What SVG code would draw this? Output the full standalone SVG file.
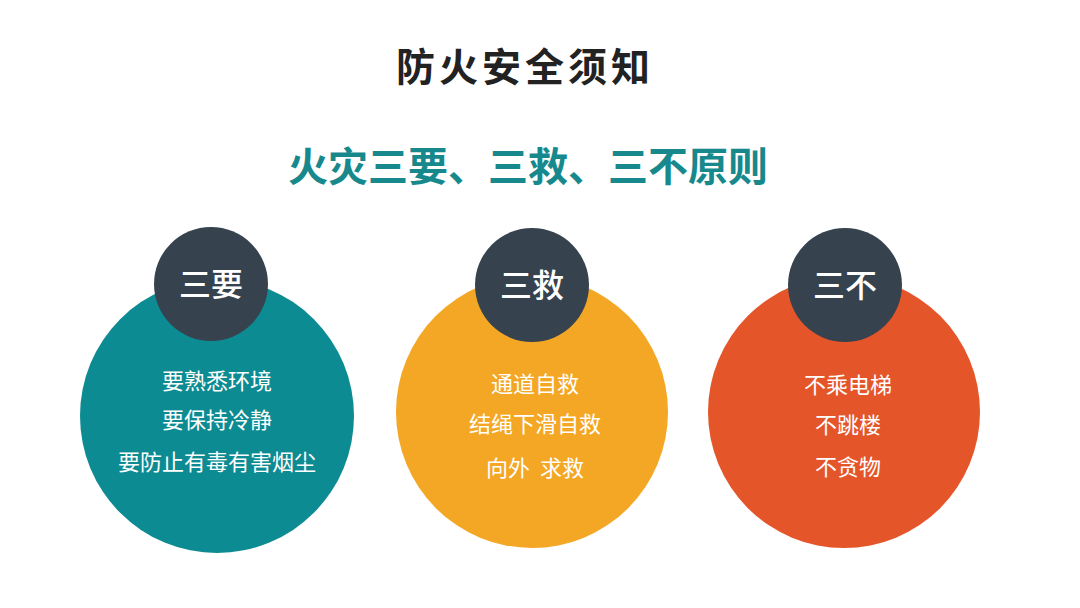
<svg xmlns="http://www.w3.org/2000/svg" width="1080" height="608" viewBox="0 0 1080 608">
<style>
.t{font-family:"Noto Sans CJK SC","Noto Sans",sans-serif;text-anchor:middle;dominant-baseline:central}
.head{font-size:32px;fill:#ffffff;font-weight:500}
.item{font-size:22px;fill:#ffffff}
.dark{fill:#36434f}
</style>
<rect width="1080" height="608" fill="#ffffff"/>
<text class="t" x="525" y="64" font-size="39" font-weight="bold" fill="#222222" letter-spacing="4">防火安全须知</text>
<text class="t" x="528" y="164" font-size="40" font-weight="bold" fill="#17898d">火灾三要、三救、三不原则</text>
<g id="node-sanyao">
<circle cx="217" cy="416" r="137" fill="#0d8b93"/>
<circle class="dark" cx="211" cy="284" r="57"/>
<text class="t head" x="211" y="282">三要</text>
<text class="t item" x="217" y="379">要熟悉环境</text>
<text class="t item" x="217" y="418">要保持冷静</text>
<text class="t item" x="217" y="460">要防止有毒有害烟尘</text>
</g>
<g id="node-sanjiu">
<circle cx="532" cy="412" r="136" fill="#f4a724"/>
<circle class="dark" cx="532" cy="285" r="57"/>
<text class="t head" x="532" y="283">三救</text>
<text class="t item" x="535" y="382" fill="#fff8e8">通道自救</text>
<text class="t item" x="535" y="422">结绳下滑自救</text>
<text class="t item" x="535" y="466" xml:space="preserve">向外  求救</text>
</g>
<g id="node-sanbu">
<circle cx="844" cy="412" r="136" fill="#e5552a"/>
<circle class="dark" cx="845" cy="285" r="57"/>
<text class="t head" x="845" y="283">三不</text>
<text class="t item" x="848" y="383">不乘电梯</text>
<text class="t item" x="848" y="423">不跳楼</text>
<text class="t item" x="848" y="465">不贪物</text>
</g>
<g id="connectors"></g>
</svg>
